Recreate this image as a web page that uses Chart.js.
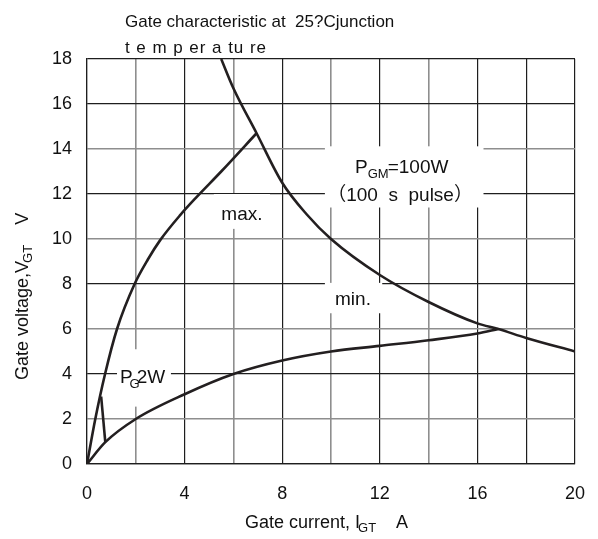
<!DOCTYPE html>
<html>
<head>
<meta charset="utf-8">
<script src="https://cdn.jsdelivr.net/npm/chart.js@4/dist/chart.umd.min.js"></script>
<style>
html,body{margin:0;padding:0;background:#fff;}
canvas{display:block;}
</style>
</head>
<body>
<canvas id="c" width="598" height="539"></canvas>
<script>
// ---- data ----
const xGrid = [0,2,4,6,8,10,12,14,16,18,20];
const xTickLabels = ['0','4','8','12','16','20'];
const yTickLabels = ['0','2','4','6','8','10','12','14','16','18'];

// max. gate characteristic
const maxI = [0, 0.34, 0.74, 1.23, 1.95, 2.5, 3.0, 3.81, 4.48, 5.5, 6.95];
const maxV = [0, 2.0, 4.0, 6.0, 8.0, 9.1, 9.95, 11.05, 11.85, 13.0, 14.7];

// min. gate characteristic
const minI = [0, 0.75, 2.0, 4.0, 6.0, 8.0, 10.0, 12.0, 14.0, 16.0, 16.86];
const minV = [0, 0.97, 2.0, 3.1, 4.0, 4.6, 5.0, 5.25, 5.5, 5.8, 6.0];

// PGM = 100 W limit
const pgmI = [5.5, 6.0, 6.95, 8.0, 9.0, 10.0, 12.0, 14.0, 16.0, 16.86, 18.0, 20.0];
const pgmV = [18.0, 16.7, 14.7, 12.5, 11.1, 10.0, 8.4, 7.2, 6.25, 6.0, 5.6, 5.0];

// PG = 2 W limit
const pgI = [0.58, 0.75];
const pgV = [3.0, 0.97];

function pts(xs, ys){ return xs.map((x,i)=>({x:x, y:ys[i]})); }

const FONT = '"Liberation Sans", Arial, "Noto Sans CJK SC", sans-serif';
const INK = '#231f20';

// annotations (data-coordinate boxes)
const boxes = [
  {x0:9.75, x1:16.25, y0:14.12, y1:11.4},
  {x0:5.2, x1:7.5, y0:12.0, y1:10.45},
  {x0:9.75, x1:12.1, y0:8.05, y1:6.7},
  {x0:1.23, x1:3.44, y0:5.1, y1:2.55}
];

function drawRich(ctx, x, y, segs, align){
  let total = 0;
  const widths = segs.map(s=>{ ctx.font = s.size+'px '+FONT; const w = ctx.measureText(s.t).width + (s.dx||0); total += w; return w; });
  let cx = align==='center' ? x - total/2 : x;
  segs.forEach((s,i)=>{
    ctx.font = s.size+'px '+FONT;
    ctx.fillText(s.t, cx, y + (s.dy||0));
    cx += widths[i];
  });
}

const annot = {
  id:'annot',
  beforeDatasetsDraw(chart){
    const {ctx, scales:{x, y}} = chart;
    ctx.save();
    ctx.fillStyle = '#fff';
    boxes.forEach(b=>{
      const px0 = x.getPixelForValue(b.x0), px1 = x.getPixelForValue(b.x1);
      const py0 = y.getPixelForValue(b.y0), py1 = y.getPixelForValue(b.y1);
      ctx.fillRect(px0, py0, px1-px0, py1-py0);
    });
    ctx.fillStyle = '#111';
    ctx.textBaseline = 'alphabetic';
    ctx.textAlign = 'left';
    drawRich(ctx, x.getPixelForValue(12.9), y.getPixelForValue(12.95), [
      {t:'P', size:19}, {t:'GM', size:13, dy:5, dx:-1}, {t:'=100W', size:19, dx:0}
    ], 'center');
    drawRich(ctx, x.getPixelForValue(12.83), y.getPixelForValue(11.7), [
      {t:'\uFF08100  s  pulse\uFF09', size:19}
    ], 'center');
    drawRich(ctx, x.getPixelForValue(6.35), y.getPixelForValue(10.85), [{t:'max.', size:19}], 'center');
    drawRich(ctx, x.getPixelForValue(10.9), y.getPixelForValue(7.05), [{t:'min.', size:19}], 'center');
    drawRich(ctx, x.getPixelForValue(1.35), y.getPixelForValue(3.6), [
      {t:'P', size:19, dx:-3}, {t:'G', size:13, dy:5, dx:-3}, {t:'2W', size:19}
    ], 'left');
    ctx.restore();
  },
  afterDraw(chart){
    const ctx = chart.ctx;
    ctx.save();
    ctx.fillStyle = '#111';
    ctx.textBaseline = 'alphabetic';
    ctx.textAlign = 'left';
    ctx.font = '17px '+FONT;
    ctx.fillText('Gate characteristic at  25?Cjunction', 125, 27);
    const s2 = 't e m p er a tu re';
    const w2 = ctx.measureText(s2).width;
    try { ctx.letterSpacing = ((142 - w2)/s2.length).toFixed(2)+'px'; } catch(e){}
    ctx.fillText(s2, 125, 53);
    try { ctx.letterSpacing = '0px'; } catch(e){}
    drawRich(ctx, 245, 528, [
      {t:'Gate current, I', size:18, dx:-2}, {t:'GT', size:13, dy:4}, {t:'    A', size:18}
    ], 'left');
    ctx.translate(28, 380);
    ctx.rotate(-Math.PI/2);
    drawRich(ctx, 0, 0, [
      {t:'Gate voltage,V', size:18, dx:-2}, {t:'GT', size:13, dy:4}, {t:'    V', size:18}
    ], 'left');
    ctx.restore();
  }
};

function gridColor(c){
  const v = c.tick ? c.tick.value : 0;
  return (v % 4 === 0 || v === 18) ? '#1e1e1e' : '#8e8e8e';
}
function gridWidth(c){
  const v = c.tick ? c.tick.value : 0;
  return (v % 4 === 0 || v === 18) ? 1.2 : 1.6;
}

const lineStyle = {showLine:true, pointRadius:0, borderColor:INK, borderWidth:2.6, fill:false};

new Chart(document.getElementById('c'), {
  type:'scatter',
  data:{
    datasets:[
      Object.assign({label:'max.', data:pts(maxI,maxV), cubicInterpolationMode:'monotone'}, lineStyle),
      Object.assign({label:'min.', data:pts(minI,minV), cubicInterpolationMode:'monotone'}, lineStyle),
      Object.assign({label:'PGM=100W', data:pts(pgmI,pgmV), cubicInterpolationMode:'monotone'}, lineStyle),
      Object.assign({label:'PG=2W', data:pts(pgI,pgV), tension:0}, lineStyle)
    ]
  },
  options:{
    responsive:false,
    devicePixelRatio:1,
    animation:false,
    events:[],
    layout:{padding:{left:0, top:59, right:23, bottom:0}},
    plugins:{legend:{display:false}, tooltip:{enabled:false}, title:{display:false}},
    scales:{
      x:{
        type:'linear', min:0, max:20,
        afterFit(s){ s.height = 75; s.paddingLeft = 0; s.paddingRight = 0; },
        afterBuildTicks(s){ s.ticks = xGrid.map(v=>({value:v})); },
        ticks:{
          autoSkip:false, maxRotation:0, padding:19, color:'#111',
          font:{family:FONT, size:18},
          callback(v){ const t = String(v); return xTickLabels.includes(t) ? t : ''; }
        },
        grid:{drawTicks:false, color:gridColor, lineWidth:gridWidth},
        border:{display:true, color:'#1e1e1e', width:1.2}
      },
      y:{
        type:'linear', min:0, max:18,
        afterFit(s){ s.width = 87; s.paddingTop = 0; s.paddingBottom = 0; },
        afterBuildTicks(s){ s.ticks = yTickLabels.map(t=>({value:Number(t)})); },
        ticks:{
          autoSkip:false, padding:15, color:'#111',
          font:{family:FONT, size:18},
          callback(v){ return String(v); }
        },
        grid:{drawTicks:false, color:gridColor, lineWidth:gridWidth},
        border:{display:true, color:'#1e1e1e', width:1.2}
      }
    }
  },
  plugins:[annot]
});
</script>
</body>
</html>
